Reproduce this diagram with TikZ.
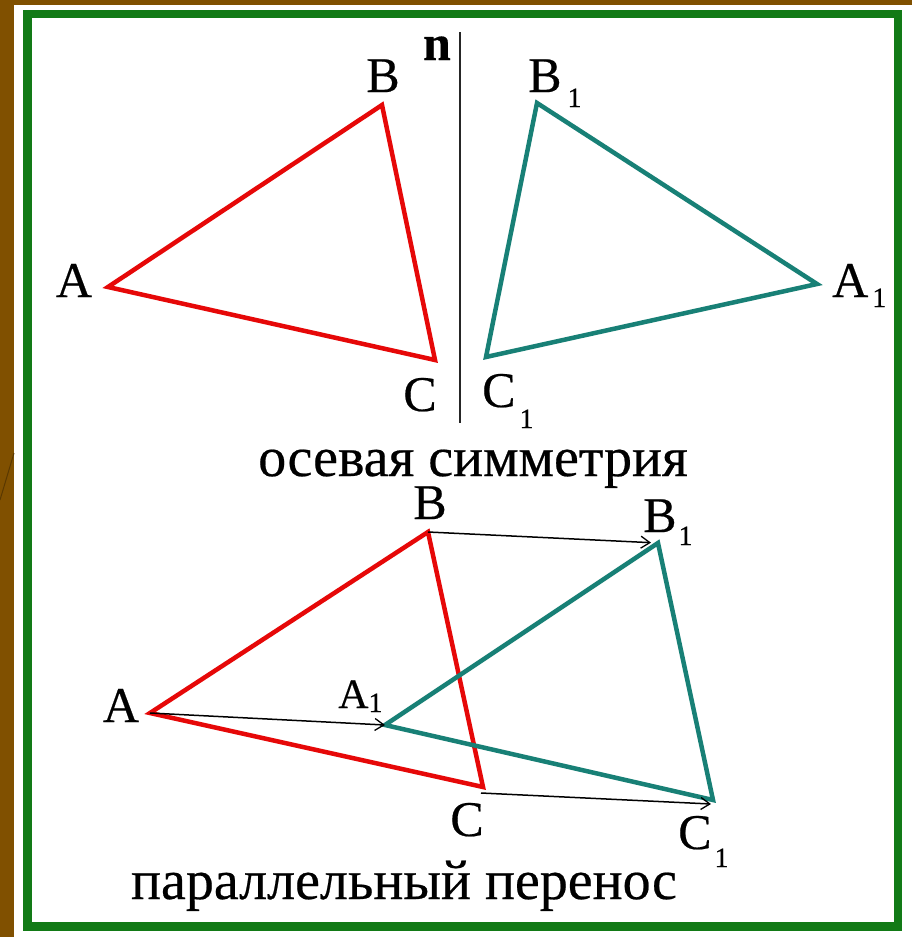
\documentclass[tikz,border=0pt]{standalone}
\usepackage{fontspec}
\setmainfont{Liberation Serif}[FakeBold=0.4]
\usetikzlibrary{arrows.meta}
\definecolor{bgbrown}{RGB}{128,80,0}
\definecolor{framegreen}{RGB}{18,122,22}
\definecolor{trired}{RGB}{230,8,8}
\definecolor{triteal}{RGB}{24,128,118}
\newcommand{\lowone}[2]{\hspace{#1}\raisebox{-#2}{\fontsize{28}{30}\selectfont 1}}
\begin{document}
\begin{tikzpicture}[x=1pt,y=-1pt,
  lbl/.style={inner sep=0pt, anchor=base, font=\fontsize{50}{56}\selectfont},
  lblw/.style={inner sep=0pt, anchor=base west, font=\fontsize{50}{56}\selectfont},
  captext/.style={inner sep=0pt, anchor=base, text depth=0pt, font=\fontsize{56}{64}\selectfont},
  redtri/.style={trired, line width=4.5pt, line join=miter},
  tealtri/.style={triteal, line width=4.5pt, line join=miter},
  arr/.style={black, line width=1.5pt, -{Straight Barb[length=9pt,width=12pt,line width=1.3pt]}}]
\useasboundingbox (0,0) rectangle (912,937);
% background and frame
\fill[bgbrown] (0,0) rectangle (912,937);
\fill[white] (14,5) rectangle (912,937);
\draw[bgbrown!70!black, line width=1pt] (14,453) -- (0,500);
\draw[framegreen, line width=8.5pt] (27.5,14) rectangle (898,926.5);

% ---------- axial symmetry ----------
\coordinate (A) at (108,287);
\coordinate (B) at (382,105);
\coordinate (C) at (435,360);
\coordinate (A1) at (817,284);
\coordinate (B1) at (537,103);
\coordinate (C1) at (486,357);
\coordinate (n1) at (460,32);
\coordinate (n2) at (460,423);
\draw[black!85, line width=2.2pt] (n1) -- (n2);
\draw[redtri] (A) -- (B) -- (C) -- cycle;
\draw[tealtri] (A1) -- (B1) -- (C1) -- cycle;

\node[lbl] (nlab) at (437,60) {\textbf{n}};
\node[lbl] (lA) at (74,297) {A};
\node[lbl] (lB) at (383,92) {B};
\node[lbl] (lC) at (420,411) {C};
\node[lblw] (lB1) at (528,92) {B\lowone{6pt}{15pt}};
\node[lblw] (lA1) at (832,297) {A\lowone{4pt}{10pt}};
\node[lblw] (lC1) at (482,407) {C\lowone{4pt}{21pt}};
\node[captext] (cap1) at (473,476) {осевая симметрия};

% ---------- translation ----------
\coordinate (pA) at (150,713);
\coordinate (pB) at (428,532);
\coordinate (pC) at (483,787);
\coordinate (pA1) at (385,725);
\coordinate (pB1) at (658,543);
\coordinate (pC1) at (713,800);
\coordinate (pCs) at (481,793);
\coordinate (pCe) at (711,804);
\draw[redtri] (pA) -- (pB) -- (pC) -- cycle;
\draw[tealtri] (pA1) -- (pB1) -- (pC1) -- cycle;
\draw[arr] (pA) -- (pA1);
\draw[arr, shorten >=7pt] (pB) -- (pB1);
\draw[arr] (pCs) -- (pCe);

\node[lbl] (qB) at (430,519) {B};
\node[lbl] (qA) at (121,722) {A};
\node[lbl] (qC) at (467,836) {C};
\node[lblw, font=\fontsize{42}{48}\selectfont] (qA1) at (338,708) {A\lowone{0pt}{4pt}};
\node[lblw] (qB1) at (643,532) {B\lowone{2pt}{13pt}};
\node[lblw] (qC1) at (678,849) {C\lowone{3pt}{18pt}};
\node[captext] (cap2) at (404,899) {параллельный перенос};
\end{tikzpicture}
\end{document}
